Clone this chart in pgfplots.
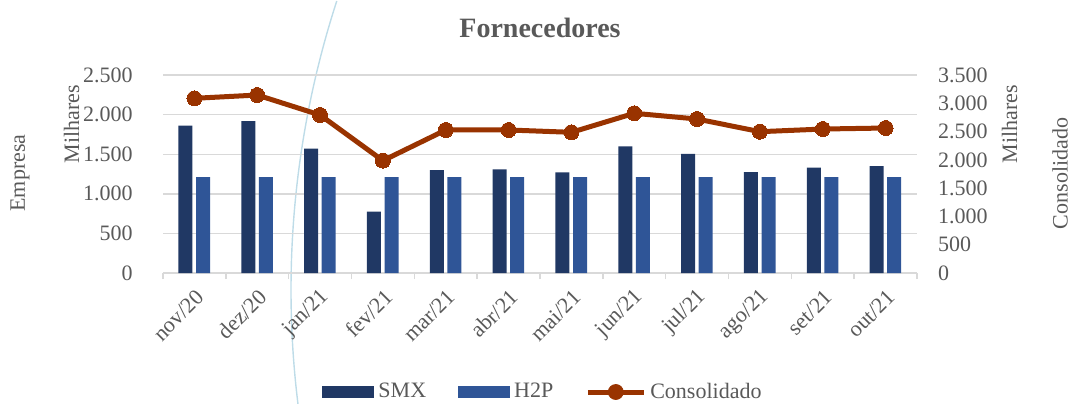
\documentclass[border=0pt]{standalone}
\usepackage{fontspec}
\setmainfont{Liberation Serif}
\usepackage{pgfplots}
\pgfplotsset{compat=1.18}
\definecolor{smx}{RGB}{32,56,100}
\definecolor{h2p}{RGB}{47,85,151}
\definecolor{cons}{RGB}{153,51,0}
\definecolor{txt}{RGB}{89,89,89}
\definecolor{grd}{RGB}{217,217,217}
\definecolor{arcblue}{RGB}{190,220,232}
\begin{document}
\begin{tikzpicture}
\useasboundingbox (0,0) rectangle (535pt,201.5pt);
\draw[arcblue, line width=0.7pt] (613pt,56.5pt) ++(162:467.5pt) arc[start angle=162, end angle=188, radius=467.5pt];
% left axis with bars
\begin{axis}[
  at={(81.5pt,65pt)}, anchor=south west,
  scale only axis, width=377pt, height=99pt,
  xmin=-0.5, xmax=11.5, ymin=0, ymax=2500,
  axis line style={draw=none},
  xtick={0,...,11},
  xticklabels={nov/20,dez/20,jan/21,fev/21,mar/21,abr/21,mai/21,jun/21,jul/21,ago/21,set/21,out/21},
  minor xtick={-0.5,0.5,...,11.5},
  xtick pos=left, ytick pos=left,
  tick align=outside,
  major x tick style={draw=none},
  minor x tick style={draw=grd, line width=0.7pt},
  minor tick length=3pt,
  ytick={0,500,1000,1500,2000,2500},
  yticklabels={0,500,1.000,1.500,2.000,2.500},
  ytick style={draw=none},
  ymajorgrids, grid style={grd, line width=0.7pt},
  tick label style={font=\fontsize{11}{13}\selectfont, text=txt},
  yticklabel style={anchor=east, inner sep=0pt, xshift=-10.7pt},
  xticklabel style={inner sep=0pt, xshift=3pt, yshift=-6pt, rotate=45, anchor=east},
  legend style={at={(0.5053,-0.601)}, anchor=center, draw=none, fill=none,
    font=\fontsize{11}{13}\selectfont, text=txt, legend columns=3,
    /tikz/every even column/.append style={column sep=14pt}},
  legend cell align=left,
]
\addplot[ybar, bar width=7pt, bar shift=-4.5pt, fill=smx, draw=none,
  legend image code/.code={\fill[smx] (0pt,-3pt) rectangle (26pt,3pt);}]
  coordinates {(0,1860) (1,1919) (2,1570) (3,774) (4,1300) (5,1309) (6,1271) (7,1600) (8,1503) (9,1275) (10,1330) (11,1351)};
\addlegendentry{SMX}
\addplot[ybar, bar width=7pt, bar shift=4.3pt, fill=h2p, draw=none,
  legend image code/.code={\fill[h2p] (0pt,-3pt) rectangle (26pt,3pt);}]
  coordinates {(0,1212) (1,1212) (2,1212) (3,1212) (4,1212) (5,1212) (6,1212) (7,1212) (8,1212) (9,1212) (10,1212) (11,1212)};
\addlegendentry{H2P}
\addlegendimage{legend image code/.code={\draw[cons, line width=2.5pt] (0pt,0pt) -- (28pt,0pt); \fill[cons] (14pt,0pt) circle (3.75pt);}}
\addlegendentry{Consolidado}
\end{axis}
% right axis with line
\begin{axis}[
  at={(81.5pt,65pt)}, anchor=south west,
  scale only axis, width=377pt, height=99pt,
  xmin=-0.5, xmax=11.5, ymin=0, ymax=3500,
  axis line style={draw=none},
  xtick=\empty,
  ytick pos=right,
  ytick={0,500,1000,1500,2000,2500,3000,3500},
  yticklabels={0,500,1.000,1.500,2.000,2.500,3.000,3.500},
  ytick style={draw=none},
  tick label style={font=\fontsize{11}{13}\selectfont, text=txt},
  yticklabel style={anchor=west, inner sep=0pt, xshift=10.3pt},
]
\addplot[cons, line width=2.5pt, mark=*, mark size=3.75pt, mark options={fill=cons, draw=cons, line width=0pt}]
  coordinates {(0,3088) (1,3146) (2,2793) (3,1986) (4,2528) (5,2528) (6,2487) (7,2823) (8,2722) (9,2498) (10,2545) (11,2563)};
\end{axis}
\node[text=txt, font=\fontsize{14}{16}\selectfont\bfseries] at (270pt,187.5pt) {Fornecedores};
\node[text=txt, font=\fontsize{11}{13}\selectfont, rotate=90] at (10pt,115pt) {Empresa};
\node[text=txt, font=\fontsize{11}{13}\selectfont, rotate=90] at (35.8pt,139.5pt) {Milhares};
\node[text=txt, font=\fontsize{11}{13}\selectfont, rotate=90] at (504.8pt,139.5pt) {Milhares};
\node[text=txt, font=\fontsize{11}{13}\selectfont, rotate=90] at (530pt,114.75pt) {Consolidado};
\end{tikzpicture}
\end{document}
